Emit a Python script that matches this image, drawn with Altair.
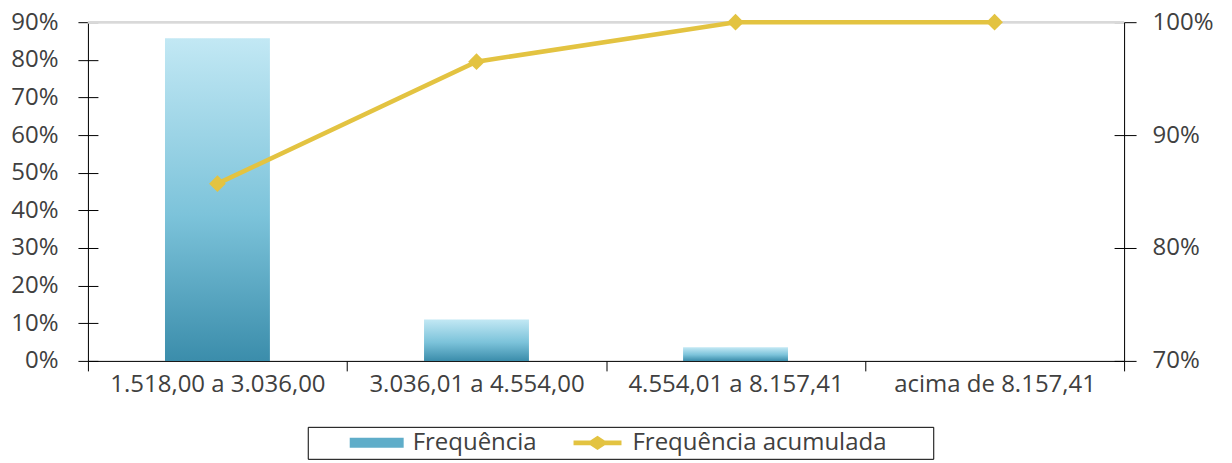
import altair as alt
import pandas as pd

categories = ["1.518,00 a 3.036,00", "3.036,01 a 4.554,00", "4.554,01 a 8.157,41", "acima de 8.157,41"]
freq = [0.857, 0.110, 0.036, 0.0]
cum = [0.857, 0.965, 1.0, 1.0]
series_names = ["Frequência", "Frequência acumulada"]

df = pd.DataFrame({"cat": categories, "freq": freq, "cum": cum})
legend_df = pd.DataFrame({"series": series_names})

FONT = "Open Sans"
FS = 24
TXT = "#404040"
W, H = 1037, 339

x_enc = alt.X("cat:N", sort=categories, title=None,
              scale=alt.Scale(paddingInner=0, paddingOuter=0),
              axis=alt.Axis(orient="bottom", tickBand="extent", tickSize=10, tickColor="#000000",
                            domainColor="#000000", labelAngle=0, labelPadding=2, labelLimit=400,
                            labelFont=FONT, labelFontSize=FS, labelColor=TXT))

grad = alt.Gradient(gradient="linear",
                    stops=[alt.GradientStop(color="#c2e8f4", offset=0),
                           alt.GradientStop(color="#7cc3da", offset=0.55),
                           alt.GradientStop(color="#3b8dab", offset=1)],
                    x1=0, x2=0, y1=0, y2=1)

bars = alt.Chart(df).mark_bar(color=grad, size=105).encode(
    x=x_enc,
    y=alt.Y("freq:Q", title=None,
            scale=alt.Scale(domain=[0, 0.9], nice=False, zero=True),
            axis=alt.Axis(orient="left", values=[0, 0.1, 0.2, 0.3, 0.4, 0.5, 0.6, 0.7, 0.8, 0.9],
                          format=".0%", tickSize=10, tickColor="#000000", domainColor="#000000",
                          grid=False, labelPadding=20, labelFont=FONT, labelFontSize=FS,
                          labelColor=TXT)),
)

left_ticks = alt.Chart(df).mark_point(opacity=0).encode(
    x=alt.X("cat:N", sort=categories),
    y=alt.Y("freq:Q", title=None,
            scale=alt.Scale(domain=[0, 0.9], nice=False),
            axis=alt.Axis(orient="left", offset=-10, values=[0, 0.1, 0.2, 0.3, 0.4, 0.5, 0.6, 0.7, 0.8, 0.9],
                          tickSize=10, tickColor="#000000", domain=False, labels=False, grid=False)),
)

line_base = alt.Chart(df).encode(
    x=alt.X("cat:N", sort=categories),
    y=alt.Y("cum:Q", title=None,
            scale=alt.Scale(domain=[0.7, 1.0], nice=False, zero=False),
            axis=alt.Axis(orient="right", values=[0.7, 0.8, 0.9, 1.0], format=".0%", tickSize=12,
                          tickColor="#000000", domainColor="#000000", grid=False, labelPadding=16,
                          labelFont=FONT, labelFontSize=FS, labelColor=TXT)),
)
line = alt.layer(
    line_base.mark_line(color="#e3c341", strokeWidth=4.5),
    line_base.mark_point(shape="diamond", filled=True, size=280, color="#e3c341", opacity=1),
)

right_ticks = alt.Chart(df).mark_point(opacity=0).encode(
    x=alt.X("cat:N", sort=categories),
    y=alt.Y("cum:Q", title=None,
            scale=alt.Scale(domain=[0.7, 1.0], nice=False, zero=False),
            axis=alt.Axis(orient="right", offset=-10, values=[0.7, 0.8, 0.9, 1.0], tickSize=10,
                          tickColor="#000000", domain=False, labels=False, grid=False)),
)

top_rule = alt.Chart(df).mark_rule(color="#d9d9d9", strokeWidth=2).encode(
    x=alt.value(0), x2=alt.value(W), y=alt.value(0)
)

# legend symbols (unit = 8px); the zero-area sub-path only widens the legend box
bar_path = "M-1,-0.625H5.75V0.625H-1Z"
line_path = "M-0.5,-0.3H1.6L2.5,-0.9L3.4,-0.3H5.5V0.3H3.4L2.5,0.9L1.6,0.3H-0.5ZM44,0L44,0.01"

# white title only reserves the blank space left of the first symbol
leg = alt.Legend(orient="none", legendX=220, legendY=405, direction="horizontal",
                 title="W", titleOrient="left", titleColor="#ffffff", titleFont=FONT,
                 titleFontSize=FS, titlePadding=10,
                 strokeColor="#000000", padding=4, symbolSize=256, symbolOpacity=1,
                 symbolStrokeWidth=0, labelFont=FONT, labelFontSize=FS,
                 labelColor=TXT, labelLimit=500, columnPadding=28, labelOffset=43)

legend_layer = alt.Chart(legend_df).mark_point(filled=True, opacity=0).encode(
    color=alt.Color("series:N", scale=alt.Scale(domain=series_names, range=["#5fadc9", "#e3c341"]),
                    legend=leg),
    shape=alt.Shape("series:N", scale=alt.Scale(domain=series_names, range=[bar_path, line_path]),
                    legend=leg),
)

chart = alt.layer(top_rule, bars, left_ticks, line, right_ticks, legend_layer).resolve_scale(
    y="independent"
).properties(
    width=W, height=H,
    autosize=alt.AutoSizeParams(type="none"),
    padding={"left": 80, "top": 14, "right": 100, "bottom": 100},
).configure_view(stroke=None).configure(background="white")

chart.save("out.html", embed_options={"renderer": "svg", "actions": False})
